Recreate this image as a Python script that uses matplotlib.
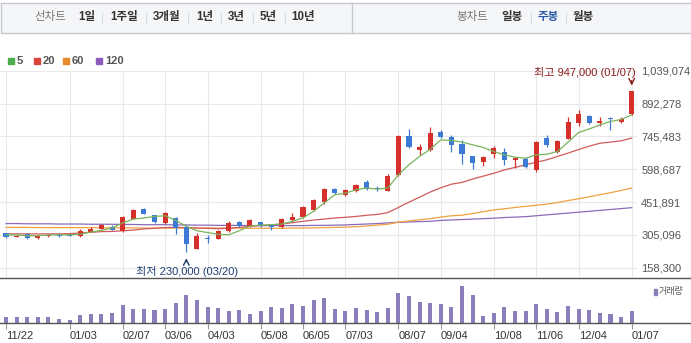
import matplotlib.pyplot as plt
from matplotlib.patches import Rectangle
from matplotlib.lines import Line2D

plt.rcParams['font.family'] = ['Liberation Sans', 'Noto Sans CJK KR']

# weekly candles, prices in KRW thousand
tick_idx = [0, 6, 11, 15, 19, 24, 28, 32, 37, 41, 46, 50, 54, 59]
tick_labels = ["11/22", "01/03", "02/07", "03/06", "04/03", "05/08", "06/05",
               "07/03", "08/07", "09/04", "10/08", "11/06", "12/04", "01/07"]

opens = [314, 298, 308, 290, 300, 306, 305, 302, 320, 333, 341, 321, 378, 422, 393,
         359, 381, 341, 244, 290, 289, 321, 361, 344, 361, 351, 341, 371, 385, 417,
         451, 510, 482, 500, 540, 514, 503, 574, 748, 686, 686, 766, 742, 711, 656,
         633, 668, 678, 638, 644, 596, 737, 675, 735, 807, 836, 806, 827, 812, 845]
highs = [316, 306, 312, 304, 311, 314, 311, 330, 340, 352, 351, 390, 420, 425, 396,
         409, 385, 350, 312, 306, 326, 367, 367, 376, 365, 354, 382, 404, 433, 468,
         513, 517, 512, 534, 549, 523, 577, 752, 779, 710, 787, 775, 753, 728, 660,
         658, 701, 692, 654, 654, 724, 753, 729, 832, 863, 841, 831, 834, 833, 947]
lows = [293, 295, 288, 288, 298, 298, 299, 296, 318, 331, 326, 318, 375, 398, 360,
        355, 308, 230, 242, 270, 285, 318, 341, 342, 341, 326, 338, 368, 382, 414,
        445, 490, 479, 497, 506, 503, 500, 570, 693, 661, 681, 740, 677, 620, 601,
        612, 649, 616, 604, 605, 585, 700, 673, 732, 794, 803, 792, 775, 806, 840]
closes = [295, 302, 290, 302, 306, 302, 302, 324, 333, 348, 329, 387, 415, 400, 363,
          402, 336, 266, 302, 286, 321, 359, 343, 373, 344, 339, 375, 387, 430, 463,
          510, 492, 507, 529, 510, 509, 570, 748, 696, 699, 760, 742, 708, 666, 625,
          654, 693, 639, 648, 608, 720, 705, 726, 809, 845, 807, 815, 824, 824, 947]

# volume, thousand shares
volume = [170, 170, 170, 170, 170, 110, 80, 230, 260, 260, 290, 530, 420, 420, 380,
          420, 590, 830, 680, 470, 440, 350, 380, 260, 350, 470, 440, 560, 500, 680,
          740, 410, 350, 440, 380, 320, 440, 890, 800, 620, 590, 560, 470, 1100, 830,
          200, 290, 470, 350, 350, 560, 410, 320, 500, 410, 380, 290, 260, 170, 350]

ma5 = [306, 305, 302, 302, 305, 306, 306, 309, 318, 326, 336, 359, 376, 381, 388,
       391, 370, 344, 324, 316, 308, 306, 324, 345, 349, 351, 354, 366, 381, 411,
       448, 485, 492, 507, 515, 510, 515, 574, 619, 656, 688, 730, 727, 720, 708,
       696, 678, 663, 653, 648, 663, 666, 678, 720, 763, 779, 797, 812, 821, 842]
ma20 = [310, 310, 310, 310, 310, 310, 311, 314, 317, 320, 321, 324, 327, 332, 335,
        338, 339, 338, 336, 335, 333, 335, 339, 344, 347, 350, 354, 360, 366, 372,
        376, 381, 384, 388, 393, 397, 405, 428, 452, 474, 497, 516, 532, 540, 555,
        568, 581, 596, 607, 619, 630, 641, 656, 671, 687, 702, 715, 720, 726, 738]
ma60 = [339, 339, 339, 338, 338, 338, 338, 338, 338, 337, 337, 337, 337, 336, 336,
        336, 336, 336, 336, 336, 336, 336, 336, 335, 335, 335, 335, 336, 336, 337,
        338, 339, 340, 342, 345, 349, 353, 362, 368, 373, 378, 385, 391, 393, 401,
        409, 417, 422, 428, 433, 438, 443, 450, 459, 467, 476, 485, 494, 504, 515]
ma120 = [356, 356, 355, 355, 355, 354, 354, 354, 353, 353, 353, 352, 352, 351, 351,
         351, 350, 350, 349, 349, 348, 348, 348, 347, 347, 347, 347, 347, 347, 348,
         348, 349, 350, 352, 354, 356, 359, 362, 363, 365, 366, 370, 372, 374, 376,
         378, 380, 383, 385, 387, 391, 395, 399, 403, 407, 411, 415, 419, 423, 427]

y_ticks = [158300, 305096, 451891, 598687, 745483, 892278, 1039074]

RED = '#d5302b'
BLUE = '#3d7ad6'

W, H = 691, 343
fig = plt.figure(figsize=(W / 100, H / 100), dpi=100)


def fx(px):
    return px / W


def fy(py):
    return 1 - py / H


ax = fig.add_axes([0, fy(277.5), fx(637), (277.5 - 70.7) / H])
vax = fig.add_axes([0, fy(322.7), fx(637), (322.7 - 277.5) / H], sharex=ax)

# candles
x = list(range(len(opens)))
for i in x:
    o, c = opens[i] * 1000, closes[i] * 1000
    col = RED if c >= o else BLUE
    ax.vlines(i, lows[i] * 1000, highs[i] * 1000, color=col, lw=0.9, zorder=3)
    ax.bar(i, max(abs(c - o), 2500), bottom=min(o, c), width=0.48, color=col, zorder=4)

ax.plot(x, [v * 1000 for v in ma120], color='#8a6bb8', lw=0.9, zorder=2)
ax.plot(x, [v * 1000 for v in ma60], color='#f0a040', lw=0.9, zorder=2)
ax.plot(x, [v * 1000 for v in ma20], color='#cf5a5c', lw=0.9, zorder=2)
ax.plot(x, [v * 1000 for v in ma5], color='#79b35a', lw=0.9, zorder=5)

ax.set_xlim(-0.57, 59.5)
ax.set_ylim(115070, 1039074)
ax.set_xticks(tick_idx)
ax.set_yticks(y_ticks)
ax.set_yticklabels([f"{v:,}" for v in y_ticks])
ax.yaxis.tick_right()
ax.tick_params(axis='y', length=0, pad=3, labelsize=8, labelcolor='#555555')
ax.tick_params(axis='x', length=0, labelbottom=False)
for lab in ax.get_yticklabels():
    lab.set_ha('left')
ax.grid(True, color='#e8e8e8', lw=0.8, zorder=0)
for s in ax.spines.values():
    s.set_visible(False)

# high / low markers
ax.text(59.35, 1032000, "최고 947,000 (01/07)", ha='right', va='center',
        fontsize=8, color='#8b1c1c', clip_on=False)
ax.annotate('', xy=(59, 960000), xytext=(59, 1007000),
            arrowprops=dict(arrowstyle='->', color='#8b1c1c', lw=1))
ax.text(17.03, 143000, "최저 230,000 (03/20)", ha='center', va='center',
        fontsize=8, color='#1f3f73', clip_on=False)
ax.annotate('', xy=(17, 214000), xytext=(17, 173000),
            arrowprops=dict(arrowstyle='->', color='#1f3f73', lw=1))

# volume
vax.bar(x, volume, width=0.38, color='#8c7dbb')
vax.set_ylim(0, 1340)
vax.set_yticks([])
vax.set_xticks(tick_idx)
vax.set_xticklabels(tick_labels)
vax.tick_params(axis='x', length=4, color='#999999', pad=2, labelsize=8, labelcolor='#333333')
for lab in vax.get_xticklabels():
    lab.set_ha('left')
for s in vax.spines.values():
    s.set_visible(False)

# panel separator lines
fig.add_artist(Line2D([0, 1], [fy(277.5), fy(277.5)], color='#555555', lw=1))
fig.add_artist(Line2D([0, 1], [fy(322.7), fy(322.7)], color='#555555', lw=1))

# volume legend
fig.add_artist(Rectangle((fx(654), fy(294.5)), fx(3), 6 / H, color='#8c7dbb'))
fig.text(fx(659), fy(291.3), "거래량", fontsize=6.5, color='#555555', va='center')

# header bar
fig.add_artist(Rectangle((fx(1), fy(33.3)), fx(692), 30.6 / H, facecolor='#f5f6f8',
                         edgecolor='#c6c9cd', lw=1))
fig.add_artist(Line2D([fx(351.7)] * 2, [fy(2.7), fy(33.3)], color='#c6c9cd', lw=1))

items = [("선차트", 50, '#777777', 'normal'), ("1일", 86.5, '#333333', 'bold'),
         ("1주일", 124, '#333333', 'bold'), ("3개월", 166.5, '#333333', 'bold'),
         ("1년", 204.5, '#333333', 'bold'), ("3년", 236.5, '#333333', 'bold'),
         ("5년", 268, '#333333', 'bold'), ("10년", 303, '#333333', 'bold'),
         ("봉차트", 472.5, '#777777', 'normal'), ("일봉", 512.5, '#333333', 'bold'),
         ("주봉", 548, '#2a5aa8', 'bold'), ("월봉", 583.5, '#333333', 'bold')]
for txt, px, col, wt in items:
    fig.text(fx(px), fy(17.3), txt, ha='center', va='center', fontsize=8.3,
             color=col, fontweight=wt)
for px in [102, 146, 188, 221, 253, 285, 531, 566]:
    fig.add_artist(Line2D([fx(px)] * 2, [fy(12.5), fy(22.5)], color='#d8dadd', lw=0.8))

# MA legend
legend = [("5", 8, '#4cae4c'), ("20", 34, '#d9433b'), ("60", 63, '#e8892c'), ("120", 96, '#8d5bbf')]
for txt, px, col in legend:
    fig.add_artist(Rectangle((fx(px), fy(63.7)), fx(6), 6 / H, color=col))
    fig.text(fx(px + 9), fy(60.7), txt, fontsize=8, fontweight='bold',
             color='#555555', va='center')

fig.savefig('out.png', dpi=100)
